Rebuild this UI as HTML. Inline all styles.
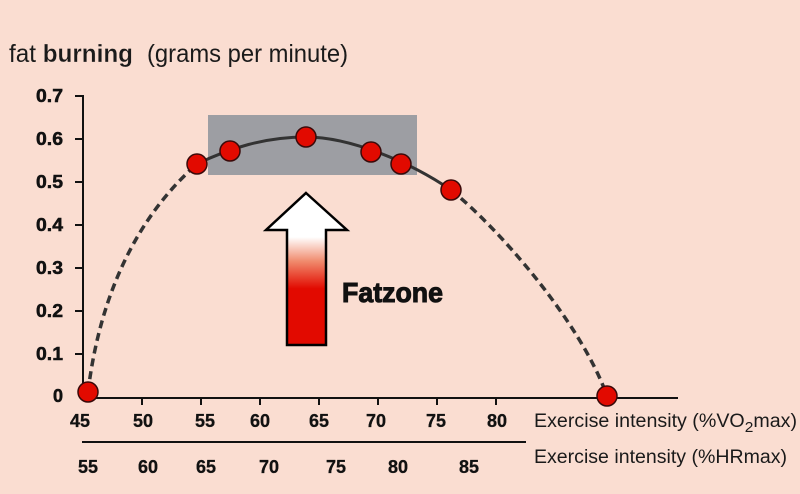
<!DOCTYPE html>
<html><head><meta charset="utf-8"><style>
html,body{margin:0;padding:0;background:#FADDD1;}
svg{display:block;}
</style></head><body>
<svg width="800" height="494" viewBox="0 0 800 494" xmlns="http://www.w3.org/2000/svg">
<defs>
<linearGradient id="ag" x1="0" y1="193" x2="0" y2="345" gradientUnits="userSpaceOnUse">
<stop offset="0" stop-color="#ffffff"/>
<stop offset="0.29" stop-color="#ffffff"/>
<stop offset="0.45" stop-color="#f08a6c"/>
<stop offset="0.63" stop-color="#e20a00"/>
<stop offset="1" stop-color="#e20a00"/>
</linearGradient>
</defs>
<rect width="800" height="494" fill="#FADDD1"/>
<!-- title -->
<text x="9" y="62" font-family="Liberation Sans, sans-serif" font-size="25" fill="#1a1a1a" textLength="124" lengthAdjust="spacingAndGlyphs"><tspan>fat </tspan><tspan font-weight="bold" stroke="#FADDD1" stroke-width="0.3">burning</tspan></text>
<text x="147" y="62" font-family="Liberation Sans, sans-serif" font-size="25" fill="#1a1a1a" textLength="201" lengthAdjust="spacingAndGlyphs">(grams per minute)</text>
<!-- gray box -->
<rect x="208" y="115" width="209" height="60" fill="#9D9EA3"/>
<!-- axes -->
<g stroke="#111" stroke-width="2">
<line x1="83" y1="95" x2="83" y2="398"/>
<line x1="75" y1="96" x2="83" y2="96"/>
<line x1="75" y1="139" x2="83" y2="139"/>
<line x1="75" y1="182" x2="83" y2="182"/>
<line x1="75" y1="225" x2="83" y2="225"/>
<line x1="75" y1="268" x2="83" y2="268"/>
<line x1="75" y1="311" x2="83" y2="311"/>
<line x1="75" y1="354" x2="83" y2="354"/>
<line x1="83" y1="398" x2="678" y2="398"/>
<line x1="142" y1="398" x2="142" y2="405"/>
<line x1="201" y1="398" x2="201" y2="405"/>
<line x1="260" y1="398" x2="260" y2="405"/>
<line x1="319" y1="398" x2="319" y2="405"/>
<line x1="378" y1="398" x2="378" y2="405"/>
<line x1="437" y1="398" x2="437" y2="405"/>
<line x1="496" y1="398" x2="496" y2="405"/>
<line x1="82" y1="442" x2="526" y2="442"/>
</g>
<g font-family="Liberation Sans, sans-serif" font-size="18" font-weight="bold" fill="#111" stroke="#111" stroke-width="0.5" text-anchor="end">
<text x="63" y="102" textLength="27" lengthAdjust="spacingAndGlyphs">0.7</text>
<text x="63" y="145" textLength="27" lengthAdjust="spacingAndGlyphs">0.6</text>
<text x="63" y="188" textLength="27" lengthAdjust="spacingAndGlyphs">0.5</text>
<text x="63" y="231" textLength="27" lengthAdjust="spacingAndGlyphs">0.4</text>
<text x="63" y="274" textLength="27" lengthAdjust="spacingAndGlyphs">0.3</text>
<text x="63" y="317" textLength="27" lengthAdjust="spacingAndGlyphs">0.2</text>
<text x="63" y="360" textLength="27" lengthAdjust="spacingAndGlyphs">0.1</text>
<text x="63" y="402">0</text>
</g>
<g font-family="Liberation Sans, sans-serif" font-size="18" font-weight="bold" fill="#111" stroke="#111" stroke-width="0.3" text-anchor="middle">
<text x="80" y="427">45</text>
<text x="143" y="427">50</text>
<text x="205" y="427">55</text>
<text x="260" y="427">60</text>
<text x="319" y="427">65</text>
<text x="376" y="427">70</text>
<text x="436" y="427">75</text>
<text x="497" y="427">80</text>
<text x="88" y="473">55</text>
<text x="148" y="473">60</text>
<text x="206" y="473">65</text>
<text x="269" y="473">70</text>
<text x="336" y="473">75</text>
<text x="398" y="473">80</text>
<text x="469" y="473">85</text>
</g>
<text x="534" y="427" font-family="Liberation Sans, sans-serif" font-size="19" fill="#1a1a1a" textLength="263" lengthAdjust="spacingAndGlyphs">Exercise intensity (%VO<tspan dy="5" font-size="15">2</tspan><tspan dy="-5">max)</tspan></text>
<text x="534" y="463" font-family="Liberation Sans, sans-serif" font-size="19" fill="#1a1a1a" textLength="253" lengthAdjust="spacingAndGlyphs">Exercise intensity (%HRmax)</text>
<!-- curves -->
<path d="M88,392 C98,310 128,225 197,164" fill="none" stroke="#333" stroke-width="3.5" stroke-dasharray="8,5"/>
<path d="M451,190 C495,225 580,320 607,396" fill="none" stroke="#333" stroke-width="3.5" stroke-dasharray="8,5"/>
<path d="M197,164 C230,148 265,137 306,137 C350,137 410,162 451,190" fill="none" stroke="#333" stroke-width="3"/>
<!-- points -->
<g fill="#E20A00" stroke="#3a0a0a" stroke-width="1.5">
<circle cx="88" cy="392" r="10"/>
<circle cx="197" cy="164" r="10"/>
<circle cx="230" cy="151" r="10"/>
<circle cx="306" cy="137" r="10"/>
<circle cx="371" cy="152" r="10"/>
<circle cx="401" cy="164" r="10"/>
<circle cx="451" cy="190" r="10"/>
<circle cx="607" cy="396" r="10"/>
</g>
<!-- arrow -->
<polygon points="306,193 347,230 326,230 326,345 287,345 287,230 266,230" fill="url(#ag)" stroke="#000" stroke-width="2.5" stroke-linejoin="miter"/>
<text x="342" y="302" font-family="Liberation Sans, sans-serif" font-size="28" font-weight="bold" fill="#111" stroke="#111" stroke-width="1" textLength="101" lengthAdjust="spacingAndGlyphs">Fatzone</text>
</svg>
</body></html>
